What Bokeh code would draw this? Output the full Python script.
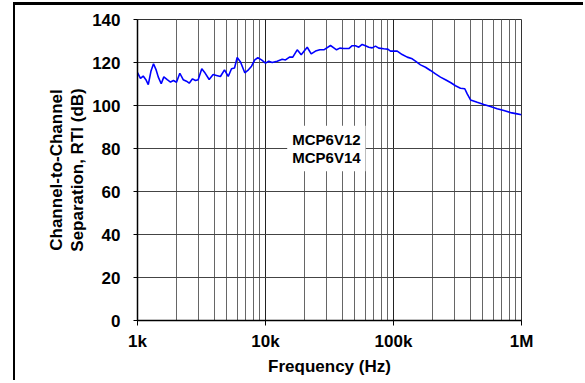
from bokeh.plotting import figure
from bokeh.models import FixedTicker, Label
from bokeh.embed import file_html
from bokeh.resources import INLINE

# ---- data ----
freq_hz = [1000, 1055, 1108, 1163, 1214, 1273, 1334, 1395, 1454, 1532, 1606, 1706,
           1811, 1910, 2017, 2141, 2275, 2413, 2534, 2690, 2838, 2979, 3178, 3337,
           3630, 3900, 4140, 4446, 4782, 5113, 5425, 5725, 6009, 6380, 6890, 7276,
           7780, 8247, 8710, 9306, 10000, 10612, 11276, 12340, 13506, 14330, 15399,
           16340, 17690, 19010, 21180, 22750, 24600, 26560, 28550, 32200, 34190,
           35890, 38070, 40930, 44770, 47560, 50470, 53560, 56890, 60430, 64120,
           68180, 72310, 76740, 83970, 90220, 94790, 106900, 116900, 128000, 140000,
           148500, 162500, 177800, 194500, 212800, 232800, 254700, 278700, 304900,
           333600, 360500, 376600, 399600, 450900, 507500, 572300, 645600, 727800,
           820500, 925000, 1000000]
sep_db = [115.3, 112.6, 113.7, 112.0, 109.7, 115.9, 119.4, 116.7, 113.2, 110.1, 113.3, 112.0,
          110.9, 111.6, 110.8, 115.0, 112.0, 111.3, 110.4, 112.4, 111.6, 112.0, 117.1, 115.5,
          112.1, 114.4, 114.0, 113.5, 116.6, 113.5, 117.1, 117.4, 122.3, 120.2, 115.2, 116.3,
          118.3, 121.2, 122.2, 121.2, 119.7, 120.6, 120.0, 120.6, 121.5, 121.2, 122.5,
          122.5, 125.9, 123.6, 127.1, 124.0, 125.3, 125.9, 125.9, 127.9, 126.8,
          125.9, 126.7, 126.5, 126.5, 127.8, 127.8, 127.1, 128.4, 127.8, 127.1,
          126.8, 127.6, 126.7, 126.4, 126.2, 125.3, 125.3, 123.7, 122.5, 121.7,
          120.6, 118.9, 117.8, 116.3, 114.7, 113.2, 112.0, 110.7, 109.2,
          108.0, 107.8, 105.4, 102.6, 101.5, 100.5, 99.5, 98.5, 97.7,
          96.7, 96.1, 95.7]

x_ticks = [1000, 10000, 100000, 1000000]
x_tick_labels = ["1k", "10k", "100k", "1M"]
y_ticks = [0, 20, 40, 60, 80, 100, 120, 140]
x_minor = [m * 10 ** e for e in range(3, 6) for m in range(2, 10)]
part_label = "MCP6V12\nMCP6V14"
x_title = "Frequency (Hz)"
y_title = "Channel-to-Channel\nSeparation, RTI (dB)"

FONT = "Liberation Sans"

p = figure(width=570, height=378, x_axis_type="log",
           x_range=(1000, 1000000), y_range=(0, 140),
           output_backend="svg", toolbar_location=None,
           min_border_left=122, min_border_right=64,
           min_border_top=14, min_border_bottom=63)
p.styles = {"border-left": "2px solid black", "border-top": "3px solid black",
            "margin-left": "13px", "margin-top": "2px"}
p.background_fill_color = "white"
p.border_fill_color = "white"
p.outline_line_color = "#333333"

p.line(freq_hz, sep_db, line_color="#0000ff", line_width=1.6)

xt = FixedTicker(ticks=x_ticks, minor_ticks=x_minor)
yt = FixedTicker(ticks=y_ticks)
p.xaxis.ticker = xt
p.yaxis.ticker = yt
p.xgrid.ticker = xt
p.ygrid.ticker = yt
p.xaxis.major_label_overrides = {t: s for t, s in zip(x_ticks, x_tick_labels)}

p.xgrid.grid_line_color = "#222222"
p.xgrid.minor_grid_line_color = "#666666"
p.ygrid.grid_line_color = "#444444"

for ax in (p.xaxis, p.yaxis):
    ax.axis_line_color = "black"
    ax.axis_line_width = 1.5
    ax.major_tick_line_color = "black"
    ax.major_tick_in = 0
    ax.minor_tick_in = 0
    ax.minor_tick_out = 0
    ax.major_label_text_font = FONT
    ax.major_label_text_font_style = "bold"
    ax.major_label_text_font_size = "17px"
    ax.major_label_text_color = "black"
    ax.axis_label_text_font = FONT
    ax.axis_label_text_font_style = "bold"
    ax.axis_label_text_font_size = "17px"
    ax.axis_label_text_color = "black"
    ax.axis_label_text_line_height = 1.12

p.xaxis.major_tick_out = 5
p.yaxis.major_tick_out = 4
p.xaxis.major_label_standoff = 6
p.yaxis.major_label_standoff = 13
p.xaxis.axis_label = x_title
p.yaxis.axis_label = y_title
p.xaxis.axis_label_standoff = 3
p.yaxis.axis_label_standoff = 2

lab = Label(x=29900, y=80, text=part_label, text_align="center",
            text_baseline="middle", text_font=FONT, text_font_style="bold",
            text_font_size="15px", text_line_height=1.1, text_color="black",
            background_fill_color="white", padding=5)
p.add_layout(lab)

open("out.html", "w").write(file_html(p, INLINE))
